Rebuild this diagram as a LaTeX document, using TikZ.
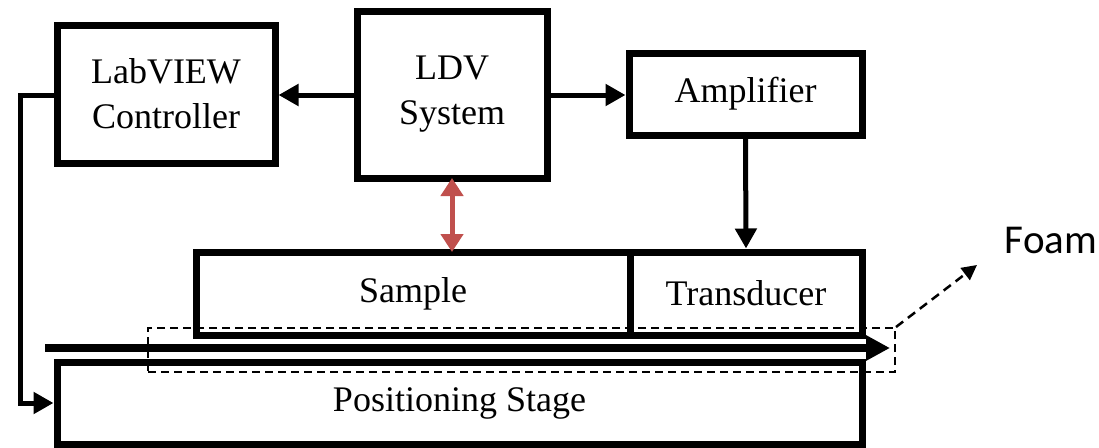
\documentclass[tikz,border=0pt]{standalone}
\usepackage{fontspec}
\setmainfont{Liberation Serif}
\newfontfamily\foamfont{Carlito}
\usetikzlibrary{arrows.meta}
\definecolor{arrred}{RGB}{192,80,77}
\begin{document}
\begin{tikzpicture}[x=1pt,y=-1pt,
  blk/.style={draw=black,line width=7pt,inner sep=0pt,align=center,
    font=\fontsize{36}{45}\selectfont},
  conn/.style={line width=5pt,-{Triangle[length=20pt,width=21pt]}},
  dashbox/.style={draw=black,line width=2pt,dash pattern=on 8pt off 5pt,inner sep=0pt}
]
\useasboundingbox (0,0) rectangle (1099,447);
\node[blk,minimum width=218pt,minimum height=138pt] (lab) at (166,94) {LabVIEW\\Controller};
\node[blk,minimum width=190pt,minimum height=167pt] (ldv) at (452,94.5) {LDV\\System};
\node[blk,minimum width=233pt,minimum height=82pt] (amp) at (745.5,94) {Amplifier};
\node[blk,minimum width=434pt,minimum height=83pt] (sample) at (413,293.5) {Sample};
\node[blk,minimum width=232pt,minimum height=83pt] (trans) at (746,293.5) {Transducer};
\node[blk,minimum width=805pt,minimum height=82pt] (stage) at (459.5,403) {Positioning Stage};
\coordinate (railL) at (45,348);
\coordinate (railR) at (890,348);
\draw[line width=7.5pt,-{Triangle[length=24pt,width=24pt]}] (railL) -- (railR);
\node[dashbox,minimum width=747pt,minimum height=44pt] (foambox) at (521.5,350) {};
\node[font=\foamfont\fontsize{41}{41}\selectfont,anchor=center] (foam) at (1051,240) {Foam};
\coordinate (foamtip) at (977,265);
\draw[line width=2.5pt,dash pattern=on 9pt off 6pt,-{Triangle[length=15pt,width=15pt]}] (foambox.north east) -- (foamtip);
\draw[conn] (ldv.west |- 0,95) -- (lab.east |- 0,95);
\draw[conn] (ldv.east |- 0,95) -- (amp.west |- 0,95);
\draw[conn] (amp.south) -- (trans.north);
\draw[conn] (lab.west |- 0,95) -- (20,95) |- (stage.west);
\draw[line width=5pt,arrred,{Triangle[length=18pt,width=22pt]}-{Triangle[length=18pt,width=22pt]}] ([yshift=3.5pt]ldv.south) -- ([yshift=-3.5pt]ldv.south |- sample.north);
\end{tikzpicture}
\end{document}
